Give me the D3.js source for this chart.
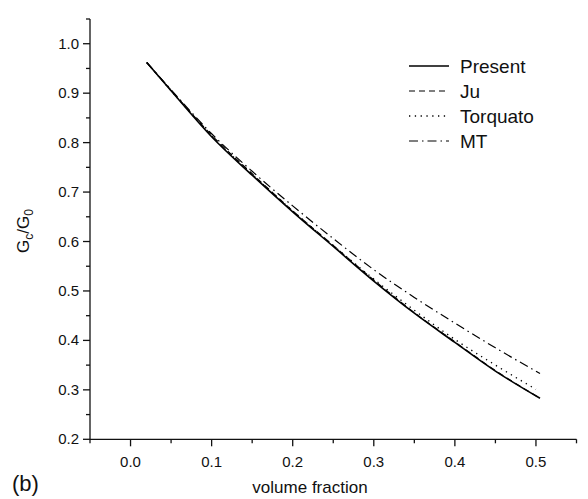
<!DOCTYPE html>
<html>
<head>
<meta charset="utf-8">
<script src="https://cdn.jsdelivr.net/npm/d3@7"></script>
<style>
  body { margin: 0; background: #fff; }
  text { font-family: "Liberation Sans", Arial, sans-serif; fill: #111; }
</style>
</head>
<body>
<div id="chart"></div>
<script>
var width = 588, height = 499;

// volume fraction values
var phi = [0.02, 0.05, 0.1, 0.15, 0.2, 0.25, 0.3, 0.35, 0.4, 0.45, 0.505];
var present = [0.962, 0.905, 0.812, 0.734, 0.660, 0.590, 0.520, 0.455, 0.396, 0.338, 0.283];
var ju = [0.962, 0.906, 0.815, 0.737, 0.662, 0.592, 0.522, 0.456, 0.397, 0.339, 0.283];
var phiT = [0.02, 0.05, 0.1, 0.15, 0.2, 0.25, 0.3, 0.35, 0.4, 0.45, 0.5];
var torquato = [0.962, 0.905, 0.814, 0.736, 0.662, 0.592, 0.524, 0.461, 0.402, 0.350, 0.301];
var mt = [0.962, 0.907, 0.818, 0.742, 0.672, 0.606, 0.543, 0.487, 0.435, 0.385, 0.333];

var xTicks = [0.0, 0.1, 0.2, 0.3, 0.4, 0.5];
var yTicks = [0.2, 0.3, 0.4, 0.5, 0.6, 0.7, 0.8, 0.9, 1.0];

var series = [
  { name: "Present", x: phi, y: present, dash: null, w: 1.6 },
  { name: "Ju", x: phi, y: ju, dash: "6,4", w: 1.2 },
  { name: "Torquato", x: phiT, y: torquato, dash: "1.3,4.5", w: 1.3 },
  { name: "MT", x: phi, y: mt, dash: "9,4,1.5,4", w: 1.2 }
];

var x = d3.scaleLinear().domain([-0.05, 0.55]).range([90, 576.5]);
var y = d3.scaleLinear().domain([0.2, 1.05]).range([439.3, 19]);

var svg = d3.select("#chart").append("svg")
    .attr("width", width)
    .attr("height", height);

// x axis
var xAxis = svg.append("g").attr("transform", "translate(0," + y(0.2) + ")");
xAxis.append("line").attr("x1", x(-0.05)).attr("x2", x(0.55)).attr("stroke", "#111").attr("stroke-width", 1.3);
var xMinor = d3.range(-0.05, 0.551, 0.05);
xAxis.selectAll(".xt")
    .data(xMinor)
    .enter().append("line")
    .attr("x1", function(d) { return x(d); })
    .attr("x2", function(d) { return x(d); })
    .attr("y1", 0)
    .attr("y2", function(d) {
      var isMajor = xTicks.some(function(t) { return Math.abs(t - d) < 1e-6; });
      return isMajor ? 7 : 4;
    })
    .attr("stroke", "#111").attr("stroke-width", 1.3);
xAxis.selectAll(".xl")
    .data(xTicks)
    .enter().append("text")
    .attr("x", function(d) { return x(d); })
    .attr("y", 28)
    .attr("text-anchor", "middle")
    .attr("font-size", 15)
    .text(function(d) { return d3.format(".1f")(d); });

// y axis
var yAxis = svg.append("g").attr("transform", "translate(" + x(-0.05) + ",0)");
yAxis.append("line").attr("y1", y(0.2)).attr("y2", y(1.05)).attr("stroke", "#111").attr("stroke-width", 1.3);
var yMinor = d3.range(0.2, 1.051, 0.05);
yAxis.selectAll(".yt")
    .data(yMinor)
    .enter().append("line")
    .attr("y1", function(d) { return y(d); })
    .attr("y2", function(d) { return y(d); })
    .attr("x1", 0)
    .attr("x2", function(d) {
      var isMajor = yTicks.some(function(t) { return Math.abs(t - d) < 1e-6; });
      return isMajor ? -7 : -4;
    })
    .attr("stroke", "#111").attr("stroke-width", 1.3);
yAxis.selectAll(".yl")
    .data(yTicks)
    .enter().append("text")
    .attr("x", -11)
    .attr("y", function(d) { return y(d) + 5; })
    .attr("text-anchor", "end")
    .attr("font-size", 15)
    .text(function(d) { return d3.format(".1f")(d); });

// curves
var line = d3.line().curve(d3.curveMonotoneX);
svg.selectAll(".curve")
    .data(series)
    .enter().append("path")
    .attr("class", "curve")
    .attr("d", function(s) {
      return line(s.x.map(function(v, i) { return [x(v), y(s.y[i])]; }));
    })
    .attr("fill", "none")
    .attr("stroke", "#000")
    .attr("stroke-width", function(s) { return s.w; })
    .attr("stroke-dasharray", function(s) { return s.dash; });

// legend
var legend = svg.selectAll(".legend")
    .data(series)
    .enter().append("g")
    .attr("transform", function(d, i) { return "translate(409," + (66 + i * 25) + ")"; });
legend.append("line")
    .attr("x1", 0).attr("x2", 40)
    .attr("stroke", "#000")
    .attr("stroke-width", function(s) { return s.w; })
    .attr("stroke-dasharray", function(s) { return s.dash; });
legend.append("text")
    .attr("x", 51)
    .attr("y", 7)
    .attr("font-size", 19)
    .text(function(s) { return s.name; });

// axis titles
svg.append("text")
    .attr("x", 310).attr("y", 493)
    .attr("text-anchor", "middle")
    .attr("font-size", 17)
    .text("volume fraction");

var yt = svg.append("text")
    .attr("transform", "translate(29,231) rotate(-90)")
    .attr("text-anchor", "middle")
    .attr("font-size", 17);
yt.append("tspan").text("G");
yt.append("tspan").attr("font-size", 12).attr("dy", 4).text("c");
yt.append("tspan").attr("dy", -4).text("/G");
yt.append("tspan").attr("font-size", 12).attr("dy", 4).text("0");

svg.append("text")
    .attr("x", 12).attr("y", 491)
    .attr("font-size", 22)
    .text("(b)");
</script>
</body>
</html>
